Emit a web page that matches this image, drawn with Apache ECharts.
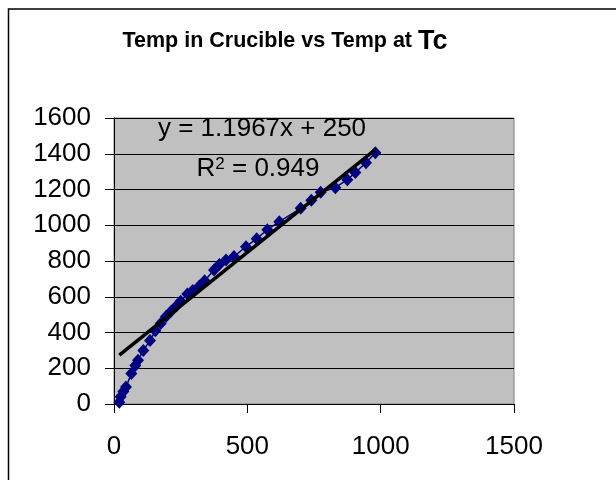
<!DOCTYPE html>
<html>
<head>
<meta charset="utf-8">
<script src="https://cdn.jsdelivr.net/npm/echarts@6/dist/echarts.min.js"></script>
<style>
  html, body { margin: 0; padding: 0; background: #fff; }
  #chart { width: 616px; height: 480px; }
</style>
</head>
<body>
<div id="chart"></div>
<script>
// temperature at Tc (x) and in crucible (y)
const tempTc = [20, 25, 35, 45, 65, 80, 90, 110, 135, 155, 175, 195, 215, 235, 250, 275, 295, 320, 340,
  375, 395, 420, 450, 495, 535, 575, 620, 700, 740, 775, 830, 875, 905, 945, 980];
const tempCrucible = [10, 40, 70, 95, 170, 215, 245, 300, 355, 410, 450, 490, 520, 550, 575, 615, 635, 660, 690,
  750, 780, 805, 825, 880, 925, 975, 1020, 1095, 1140, 1185, 1210, 1255, 1295, 1350, 1405];

// linear trendline as reported
const slope = 1.1967;
const intercept = 250;
const r2Label = '0.949';

const xTicks = [0, 500, 1000, 1500];
const yTicks = [0, 200, 400, 600, 800, 1000, 1200, 1400, 1600];

const points = tempTc.map((x, i) => [x, tempCrucible[i]]);
const xMin = Math.min(...tempTc);
const xMax = Math.max(...tempTc);
const trend = [[xMin, slope * xMin + intercept], [xMax, slope * xMax + intercept]];

const font = 'Liberation Sans, Arial, sans-serif';

const chart = echarts.init(document.getElementById('chart'));
chart.setOption({
  animation: false,
  backgroundColor: '#fff',
  textStyle: { fontFamily: font },
  graphic: [
    {
      type: 'rect',
      shape: { x: 8.5, y: 9, width: 700, height: 600 },
      style: { fill: 'none', stroke: '#000', lineWidth: 1.5 },
      silent: true,
    },
  ],
  title: [
    {
      text: 'Temp in Crucible vs Temp at {tc|Tc}',
      left: 280,
      top: 23,
      textAlign: 'center',
      textStyle: {
        fontFamily: font,
        fontSize: 21.5,
        fontWeight: 'bold',
        color: '#000',
        rich: { tc: { fontFamily: font, fontSize: 27, fontWeight: 'bold', color: '#000' } },
      },
    },
    {
      text: 'y = ' + slope + 'x + ' + intercept,
      left: 262,
      top: 116,
      textAlign: 'center',
      padding: 0,
      textStyle: { fontFamily: font, fontSize: 26, fontWeight: 'normal', color: '#000' },
    },
    {
      text: 'R{sup|2} = ' + r2Label,
      left: 258,
      top: 156,
      textAlign: 'center',
      padding: 0,
      textStyle: {
        fontFamily: font,
        fontSize: 26,
        fontWeight: 'normal',
        color: '#000',
        rich: { sup: { fontFamily: font, fontSize: 17, color: '#000', verticalAlign: 'top', lineHeight: 17 } },
      },
    },
  ],
  grid: {
    left: 114,
    right: 102,
    top: 118,
    bottom: 76,
    show: true,
    backgroundColor: '#C0C0C0',
    borderColor: '#808080',
    borderWidth: 1,
  },
  xAxis: {
    type: 'value',
    min: xTicks[0],
    max: xTicks[xTicks.length - 1],
    interval: 500,
    axisLine: { show: true, lineStyle: { color: '#000', width: 1 } },
    axisTick: { show: true, inside: false, length: 9, lineStyle: { color: '#000' } },
    axisLabel: { fontFamily: font, fontSize: 26, color: '#000', margin: 30, formatter: (v) => String(v) },
    splitLine: { show: false },
  },
  yAxis: {
    type: 'value',
    min: yTicks[0],
    max: yTicks[yTicks.length - 1],
    interval: 200,
    axisLine: { show: true, lineStyle: { color: '#000', width: 1 } },
    axisTick: { show: true, inside: false, length: 9, lineStyle: { color: '#000' } },
    axisLabel: { fontFamily: font, fontSize: 26, color: '#000', margin: 23, formatter: (v) => String(v) },
    splitLine: { show: true, lineStyle: { color: '#000', width: 1 } },
  },
  series: [
    {
      type: 'line',
      data: points,
      symbol: 'diamond',
      symbolSize: [12, 13],
      itemStyle: { color: '#000080' },
      lineStyle: { color: '#000080', width: 1.5 },
      z: 2,
    },
    {
      type: 'line',
      data: trend,
      symbol: 'none',
      lineStyle: { color: '#000', width: 3.5 },
      z: 3,
    },
  ],
});
</script>
</body>
</html>
